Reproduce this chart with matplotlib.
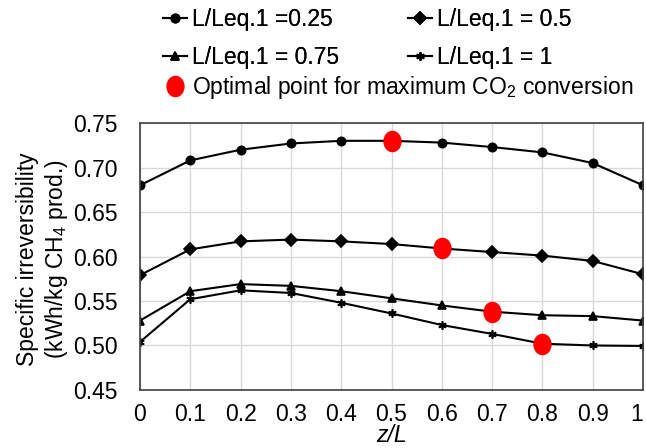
import matplotlib.pyplot as plt
import matplotlib as mpl
from matplotlib.path import Path
from matplotlib.transforms import Affine2D

plt.rcParams['font.family'] = ['Liberation Sans', 'DejaVu Sans']
plt.rcParams['mathtext.fontset'] = 'custom'
plt.rcParams['mathtext.rm'] = 'Liberation Sans'
plt.rcParams['mathtext.it'] = 'Liberation Sans:italic'

z = [0, 0.1, 0.2, 0.3, 0.4, 0.5, 0.6, 0.7, 0.8, 0.9, 1.0]
irr_025 = [0.680, 0.708, 0.720, 0.727, 0.730, 0.730, 0.728, 0.723, 0.717, 0.705, 0.680]
irr_050 = [0.579, 0.608, 0.617, 0.619, 0.617, 0.614, 0.609, 0.605, 0.601, 0.595, 0.580]
irr_075 = [0.528, 0.561, 0.569, 0.567, 0.561, 0.553, 0.545, 0.538, 0.534, 0.533, 0.528]
irr_100 = [0.504, 0.552, 0.562, 0.559, 0.548, 0.536, 0.523, 0.513, 0.502, 0.500, 0.4995]
opt_z = [0.5, 0.6, 0.7, 0.8]
opt_irr = [0.730, 0.609, 0.538, 0.502]

labels = ['L/Leq.1 =0.25', 'L/Leq.1 = 0.5', 'L/Leq.1 = 0.75', 'L/Leq.1 = 1']
markers = ['o', 'D', '^', (6, 2, 0)]
msizes = [6, 6, 6, 6]

# slightly tall ellipse for the optimum markers
ellipse = Path.unit_circle().transformed(Affine2D().scale(0.84, 1.0))

fs = 16.5
fig = plt.figure(figsize=(6.46, 4.48), dpi=100)
ax = fig.add_axes([0.2167, 0.1295, 0.7787, 0.5959])

handles = []
for ys, lab, m, ms in zip([irr_025, irr_050, irr_075, irr_100], labels, markers, msizes):
    h, = ax.plot(z, ys, color='black', lw=1.5, marker=m, ms=ms, mew=1.2, label=lab)
    handles.append(h)
opt, = ax.plot(opt_z, opt_irr, ls='none', marker=ellipse, ms=14.5, color='#ff0000', zorder=5,
               label='Optimal point for maximum CO$_2$ conversion')

ax.set_xlim(0, 1)
ax.set_ylim(0.45, 0.75)
ax.set_xticks(z)
ax.set_xticklabels(['0', '0.1', '0.2', '0.3', '0.4', '0.5', '0.6', '0.7', '0.8', '0.9', '1'])
ax.get_xticklabels()[-1].set_horizontalalignment('right')
ax.set_yticks([0.45, 0.50, 0.55, 0.60, 0.65, 0.70, 0.75])
ax.set_yticklabels(['%.2f' % v for v in ax.get_yticks()])
ax.tick_params(length=0, labelsize=fs, colors='black')
ax.tick_params(axis='y', pad=16)
ax.tick_params(axis='x', pad=9.5)
ax.grid(color='#d9d9d9', lw=1)
ax.set_axisbelow(True)
for s in ax.spines.values():
    s.set_color('#404040')
    s.set_linewidth(1.2)

ax.set_xlabel('z/L', fontsize=fs, fontstyle='italic')
ax.xaxis.set_label_coords(0.5, -0.126)
ax.set_ylabel('Specific irreversibility\n(kWh/kg CH$_4$ prod.)', fontsize=fs)
ax.yaxis.set_label_coords(-0.139, 0.49)

order = [handles[0], handles[2], handles[1], handles[3]]
leg1 = fig.legend(handles=order, loc='upper left', bbox_to_anchor=(0.245, 0.993), ncol=2,
                  frameon=False, fontsize=fs, handlelength=1.05, handletextpad=0.22,
                  columnspacing=3.0, labelspacing=0.65, borderpad=0.2, borderaxespad=0)
fig.add_artist(leg1)
fig.legend(handles=[opt], loc='upper left', bbox_to_anchor=(0.245, 0.845), frameon=False,
           fontsize=fs, handlelength=1.05, handletextpad=0.22, borderpad=0.2,
           borderaxespad=0)

fig.savefig('out.png', dpi=100)
